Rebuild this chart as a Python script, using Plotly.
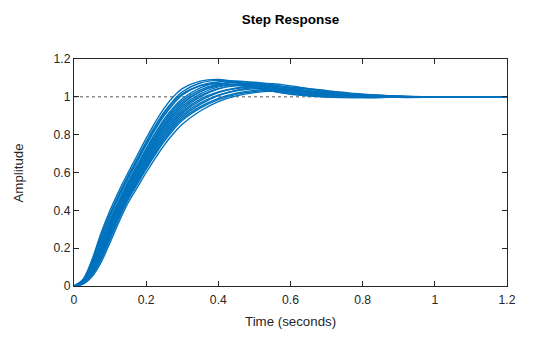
import plotly.graph_objects as go

# Sample times (s) at which each response is tabulated
time_s = [0, 0.025, 0.05, 0.075, 0.1, 0.125, 0.15, 0.175, 0.2, 0.225, 0.25, 0.275,
          0.3, 0.35, 0.4, 0.45, 0.5, 0.55, 0.6, 0.7, 0.8, 0.9, 1.0, 1.1, 1.2]

# Step responses of the sampled uncertain plant (amplitude)
resp_01 = [0, 0.035, 0.140, 0.280, 0.400, 0.505, 0.600, 0.690, 0.780, 0.865, 0.940, 1.000,
           1.043, 1.083, 1.092, 1.078, 1.052, 1.030, 1.014, 0.999, 0.996, 0.998, 1.000, 1.000, 1.000]
resp_02 = [0, 0.032, 0.131, 0.264, 0.383, 0.488, 0.584, 0.673, 0.762, 0.846, 0.920, 0.980,
           1.027, 1.073, 1.087, 1.079, 1.058, 1.036, 1.019, 1.002, 0.996, 0.998, 0.999, 1.000, 1.000]
resp_03 = [0, 0.030, 0.122, 0.249, 0.366, 0.472, 0.568, 0.656, 0.744, 0.827, 0.901, 0.961,
           1.010, 1.060, 1.079, 1.076, 1.060, 1.040, 1.024, 1.004, 0.997, 0.998, 1.000, 1.000, 1.000]
resp_04 = [0, 0.031, 0.126, 0.257, 0.375, 0.480, 0.576, 0.664, 0.753, 0.836, 0.911, 0.971,
           1.016, 1.058, 1.069, 1.062, 1.046, 1.029, 1.016, 1.000, 0.997, 0.999, 1.000, 1.000, 1.000]
resp_05 = [0, 0.028, 0.113, 0.234, 0.349, 0.455, 0.552, 0.639, 0.726, 0.808, 0.882, 0.942,
           0.990, 1.047, 1.078, 1.084, 1.073, 1.054, 1.036, 1.010, 0.999, 0.997, 0.999, 1.000, 1.000]
resp_06 = [0, 0.026, 0.109, 0.226, 0.341, 0.447, 0.544, 0.631, 0.717, 0.799, 0.872, 0.932,
           0.980, 1.037, 1.067, 1.074, 1.066, 1.050, 1.034, 1.010, 1.000, 0.998, 0.999, 1.000, 1.000]
resp_07 = [0, 0.025, 0.104, 0.218, 0.332, 0.439, 0.536, 0.622, 0.708, 0.789, 0.862, 0.922,
           0.970, 1.028, 1.058, 1.064, 1.056, 1.042, 1.028, 1.008, 0.999, 0.998, 1.000, 1.000, 1.000]
resp_08 = [0, 0.024, 0.100, 0.210, 0.324, 0.431, 0.528, 0.614, 0.699, 0.780, 0.852, 0.912,
           0.962, 1.027, 1.064, 1.079, 1.077, 1.064, 1.047, 1.018, 1.002, 0.997, 0.998, 1.000, 1.000]
resp_09 = [0, 0.023, 0.095, 0.203, 0.315, 0.423, 0.520, 0.605, 0.690, 0.770, 0.843, 0.903,
           0.952, 1.016, 1.053, 1.068, 1.069, 1.059, 1.045, 1.018, 1.003, 0.998, 0.999, 1.000, 1.000]
resp_10 = [0, 0.021, 0.091, 0.195, 0.307, 0.414, 0.512, 0.597, 0.681, 0.761, 0.833, 0.893,
           0.942, 1.006, 1.043, 1.058, 1.058, 1.050, 1.038, 1.016, 1.003, 0.999, 0.999, 1.000, 1.000]
resp_11 = [0, 0.020, 0.086, 0.187, 0.298, 0.406, 0.504, 0.588, 0.672, 0.751, 0.823, 0.883,
           0.933, 1.000, 1.042, 1.063, 1.071, 1.069, 1.058, 1.030, 1.010, 1.000, 0.998, 0.999, 1.000]
resp_12 = [0, 0.019, 0.082, 0.179, 0.290, 0.398, 0.496, 0.580, 0.663, 0.742, 0.813, 0.873,
           0.923, 0.988, 1.026, 1.044, 1.050, 1.046, 1.037, 1.018, 1.005, 1.000, 0.999, 1.000, 1.000]
resp_13 = [0, 0.018, 0.077, 0.172, 0.281, 0.390, 0.488, 0.571, 0.654, 0.732, 0.804, 0.864,
           0.914, 0.980, 1.023, 1.047, 1.058, 1.058, 1.050, 1.028, 1.010, 1.002, 0.999, 0.999, 1.000]
resp_14 = [0, 0.016, 0.073, 0.164, 0.273, 0.381, 0.480, 0.563, 0.645, 0.723, 0.794, 0.854,
           0.904, 0.968, 1.009, 1.032, 1.043, 1.044, 1.038, 1.021, 1.007, 1.001, 1.000, 1.000, 1.000]
resp_15 = [0, 0.015, 0.068, 0.156, 0.264, 0.373, 0.472, 0.554, 0.636, 0.713, 0.784, 0.844,
           0.894, 0.960, 1.006, 1.035, 1.050, 1.055, 1.051, 1.033, 1.014, 1.004, 1.000, 0.999, 1.000]
resp_16 = [0, 0.014, 0.064, 0.148, 0.256, 0.365, 0.464, 0.546, 0.627, 0.704, 0.774, 0.834,
           0.884, 0.948, 0.992, 1.019, 1.034, 1.040, 1.038, 1.025, 1.011, 1.003, 1.000, 1.000, 1.000]
resp_17 = [0, 0.013, 0.059, 0.140, 0.247, 0.357, 0.456, 0.537, 0.618, 0.694, 0.765, 0.825,
           0.875, 0.940, 0.985, 1.013, 1.028, 1.034, 1.034, 1.025, 1.012, 1.004, 1.001, 1.000, 1.000]
resp_18 = [0, 0.010, 0.050, 0.125, 0.230, 0.340, 0.440, 0.520, 0.600, 0.675, 0.745, 0.805,
           0.855, 0.925, 0.975, 1.005, 1.022, 1.030, 1.030, 1.020, 1.008, 1.002, 1.000, 1.000, 1.000]

responses = [resp_01, resp_02, resp_03, resp_04, resp_05, resp_06,
             resp_07, resp_08, resp_09, resp_10, resp_11, resp_12,
             resp_13, resp_14, resp_15, resp_16, resp_17, resp_18]

# Steady-state value and its time span
steady_state = 1.0
steady_span = [0, 1.2]

tick_vals = [0, 0.2, 0.4, 0.6, 0.8, 1.0, 1.2]
tick_text = ["0", "0.2", "0.4", "0.6", "0.8", "1", "1.2"]

axis_color = "#262626"
line_color = "#0072BD"
font_family = "Liberation Sans, Arial, sans-serif"

fig = go.Figure()

fig.add_trace(go.Scatter(
    x=steady_span, y=[steady_state, steady_state], mode="lines",
    line=dict(color="#555555", width=1, dash="dot"),
    hoverinfo="skip", showlegend=False,
))

for resp in responses:
    fig.add_trace(go.Scatter(
        x=time_s, y=resp, mode="lines",
        line=dict(color=line_color, width=1.4, shape="spline", smoothing=1.0),
        showlegend=False,
    ))

axis_common = dict(
    showline=True, linecolor=axis_color, linewidth=1, mirror="ticks",
    ticks="inside", ticklen=5, tickwidth=1, tickcolor=axis_color,
    showgrid=False, zeroline=False,
    tickfont=dict(family=font_family, size=12.2, color=axis_color),
    tickvals=tick_vals, ticktext=tick_text,
)

fig.update_layout(
    width=560, height=337,
    margin=dict(l=74, r=53, t=59, b=51),
    paper_bgcolor="white", plot_bgcolor="white",
    title=dict(
        text="<b>Step Response</b>",
        font=dict(family=font_family, size=13.5, color="#000000"),
        x=0.5, xref="paper", xanchor="center",
        y=1 - 19 / 337, yref="container", yanchor="middle",
    ),
    xaxis=dict(range=[0, 1.2], ticklabelstandoff=2, **axis_common),
    yaxis=dict(range=[0, 1.2], **axis_common),
    annotations=[
        dict(text="Time (seconds)", x=0.5, xref="paper", xanchor="center",
             y=-35 / 227, yref="paper", yanchor="middle", showarrow=False,
             font=dict(family=font_family, size=13.3, color=axis_color)),
        dict(text="Amplitude", x=-56 / 433, xref="paper", xanchor="center",
             y=0.5, yref="paper", yanchor="middle", textangle=-90, showarrow=False,
             font=dict(family=font_family, size=13.3, color=axis_color)),
    ],
)

fig.write_html("out.html")
